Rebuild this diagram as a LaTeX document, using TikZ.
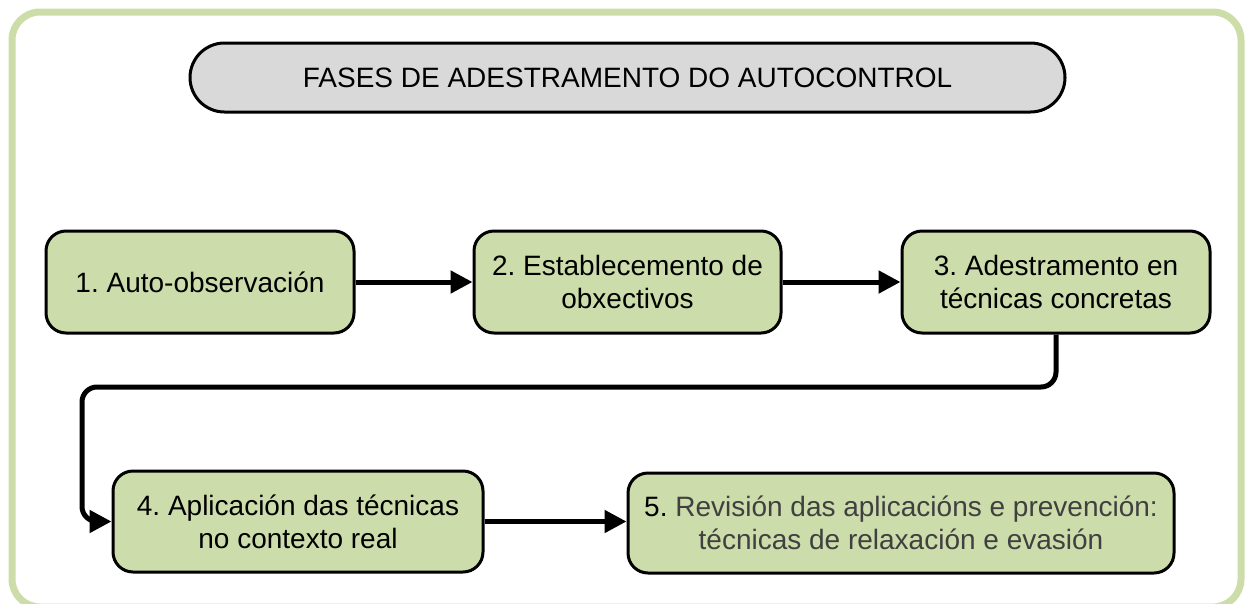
\documentclass[tikz,border=0pt]{standalone}
\usepackage{fontspec}
\setmainfont{Liberation Sans}
\usetikzlibrary{arrows.meta,shapes.misc}
\definecolor{boxgreen}{RGB}{204,220,170}
\definecolor{framegreen}{RGB}{204,221,170}
\definecolor{titlegray}{RGB}{217,217,217}
\definecolor{darktext}{RGB}{64,64,64}
\frenchspacing
\tikzset{
  stepbox/.style={draw=black, line width=3pt, fill=boxgreen, rounded corners=20pt,
    align=center, inner sep=0pt, font=\fontsize{28}{33}\selectfont},
  conn/.style={draw=black, line width=5pt, -{Triangle[length=22pt,width=22pt]}},
}
\begin{document}
\begin{tikzpicture}[x=1pt,y=-1pt]
\useasboundingbox (0,0) rectangle (1245,603);
\draw[framegreen, line width=7pt, rounded corners=28pt] (12,12) rectangle (1241,607);
\node[draw=black, line width=3pt, fill=titlegray, rounded rectangle, minimum width=875pt,
  minimum height=69pt, inner sep=0pt, font=\fontsize{28}{33}\selectfont] (title) at (627.5,77.5)
  {FASES DE ADESTRAMENTO DO AUTOCONTROL};
\node[stepbox, minimum width=308pt, minimum height=102pt] (b1) at (200,282) {1. Auto-observación};
\node[stepbox, minimum width=307pt, minimum height=102pt] (b2) at (627.5,282) {2. Establecemento de\\obxectivos};
\node[stepbox, minimum width=308pt, minimum height=102pt] (b3) at (1056,282) {3. Adestramento en\\técnicas concretas};
\node[stepbox, minimum width=370pt, minimum height=101pt] (b4) at (298,521.5) {4. Aplicación das técnicas\\no contexto real};
\node[stepbox, minimum width=546pt, minimum height=100pt] (b5) at (901,523) {5. \textcolor{darktext}{Revisión das aplicacións e prevención:}\\\textcolor{darktext}{técnicas de relaxación e evasión}};
\coordinate (k1) at (1056,387);
\coordinate (k2) at (82,387);
\coordinate (k3) at (82,521.5);
\draw[conn] (b1) -- (b2);
\draw[conn] (b2) -- (b3);
\draw[conn, rounded corners=15pt] (b3.south) -- (k1) -- (k2) -- (k3) -- (b4.west);
\draw[conn] (b4.east) -- (b4.east -| b5.west);
\end{tikzpicture}
\end{document}
